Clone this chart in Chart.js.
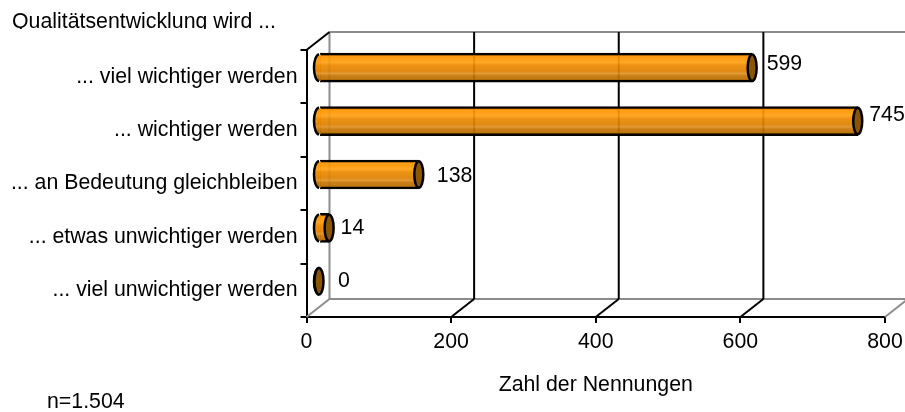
<!DOCTYPE html>
<html>
<head>
<meta charset="utf-8">
<style>
  body { margin: 0; background: #fff; }
  canvas { display: block; }
</style>
<script src="https://cdn.jsdelivr.net/npm/chart.js@4"></script>
</head>
<body>
<canvas id="chart" width="905" height="412"></canvas>
<script>
const categories = [
    '... viel wichtiger werden',
    '... wichtiger werden',
    '... an Bedeutung gleichbleiben',
    '... etwas unwichtiger werden',
    '... viel unwichtiger werden'
];
const values = [599, 745, 138, 14, 0];
const xTicks = [0, 200, 400, 600, 800];

const FONT = '"Liberation Sans", Arial, sans-serif';
const FONT_SIZE = 21.3;

// depth of the fake 3d box
const DEPTH_X = 23;
const DEPTH_Y = 18;
// bars sit halfway into the box
const BAR_SHIFT_X = 12.5;
const BAR_SHIFT_Y = -9;
const BAR_HEIGHT = 29;
const BAR_LINE = 2.5;
const CAP_RX = 4.5;
const CAP_LEFT_RX = 5;

// label nudge next to the bar end [dx, dy]
const labelNudge = [[14.5, -13], [11.5, -14.5], [18, -7], [11.5, -8.5], [19, -9.5]];

function barGradient(c, centerY) {
    // scale is not ready on the very first option lookup
    if (!Number.isFinite(centerY)) return '#E88E0A';
    const top = centerY - BAR_HEIGHT / 2;
    const g = c.createLinearGradient(0, top, 0, top + BAR_HEIGHT);
    // a bit see-through, grid lines shine through the bars
    g.addColorStop(0, 'rgba(240, 144, 0, 0.92)');
    g.addColorStop(0.18, 'rgba(255, 150, 0, 0.92)');
    g.addColorStop(0.32, 'rgba(255, 160, 20, 0.92)');
    g.addColorStop(0.42, 'rgba(236, 136, 0, 0.92)');
    g.addColorStop(0.62, 'rgba(222, 128, 0, 0.92)');
    g.addColorStop(0.7, 'rgba(226, 146, 36, 0.92)');
    g.addColorStop(0.78, 'rgba(196, 116, 0, 0.92)');
    g.addColorStop(1, 'rgba(180, 104, 0, 0.92)');
    return g;
}

function line(c, x1, y1, x2, y2, color, width) {
    c.beginPath();
    c.moveTo(x1, y1);
    c.lineTo(x2, y2);
    c.strokeStyle = color;
    c.lineWidth = width;
    c.stroke();
}

const box3d = {
    id: 'box3d',
    beforeDatasetsDraw(chart) {
        const c = chart.ctx;
        const { left, right, top, bottom } = chart.chartArea;
        const gray = '#8C8C8C';
        c.save();
        // back wall
        line(c, left + DEPTH_X, top - DEPTH_Y, right + DEPTH_X, top - DEPTH_Y, gray, 2);
        line(c, left + DEPTH_X, bottom - DEPTH_Y, right + DEPTH_X, bottom - DEPTH_Y, gray, 2);
        line(c, left + DEPTH_X, top - DEPTH_Y, left + DEPTH_X, bottom - DEPTH_Y, gray, 2);
        line(c, left, bottom, left + DEPTH_X, bottom - DEPTH_Y, gray, 2);
        line(c, right, bottom, right + DEPTH_X, bottom - DEPTH_Y, gray, 2);
        line(c, left, top, left + DEPTH_X, top - DEPTH_Y, '#000', 2);
        // grid lines on back wall + floor
        xTicks.slice(1, -1).forEach(t => {
            const x = chart.scales.x.getPixelForValue(t);
            line(c, x + DEPTH_X, top - DEPTH_Y, x + DEPTH_X, bottom - DEPTH_Y, '#000', 2);
            line(c, x, bottom, x + DEPTH_X, bottom - DEPTH_Y, '#000', 2);
        });
        c.restore();

        c.save();
        c.translate(BAR_SHIFT_X, BAR_SHIFT_Y);
    },
    afterDatasetsDraw(chart) {
        const c = chart.ctx;
        const base = chart.scales.x.getPixelForValue(0);
        chart.getDatasetMeta(0).data.forEach((bar, i) => {
            const ry = (BAR_HEIGHT - BAR_LINE) / 2;
            c.fillStyle = barGradient(c, bar.y);
            // close the pale seam between cap and bar body
            if (values[i] > 0) c.fillRect(base - 1, bar.y - ry, 3, ry * 2);
            // rounded left end
            c.beginPath();
            c.ellipse(base, bar.y, CAP_LEFT_RX, ry, 0, Math.PI / 2, Math.PI * 1.5);
            c.fill();
            c.strokeStyle = '#000';
            c.lineWidth = BAR_LINE;
            c.stroke();
            // dark right end
            c.beginPath();
            c.ellipse(bar.x, bar.y, CAP_RX, ry, 0, 0, Math.PI * 2);
            c.fillStyle = '#8A5606';
            c.fill();
            c.stroke();
        });
        c.restore();

        // value labels and free texts
        c.save();
        c.font = FONT_SIZE + 'px ' + FONT;
        c.fillStyle = '#000';
        c.textBaseline = 'middle';
        c.textAlign = 'left';
        chart.getDatasetMeta(0).data.forEach((bar, i) => {
            const x = bar.x + BAR_SHIFT_X + labelNudge[i][0];
            const y = chart.scales.y.getPixelForValue(i) + labelNudge[i][1];
            c.fillText(String(values[i]), x, y);
        });
        c.textBaseline = 'alphabetic';
        c.fillText('n=1.504', 47, 408);
        // title is cut off below the baseline in the original
        c.beginPath();
        c.rect(0, 0, 400, 29);
        c.clip();
        c.fillText('Qualitätsentwicklung wird ...', 12, 28);
        c.restore();
    }
};

new Chart(document.getElementById('chart'), {
    type: 'bar',
    data: {
        labels: categories,
        datasets: [{
            data: values,
            barThickness: BAR_HEIGHT,
            backgroundColor: ctx => barGradient(ctx.chart.ctx, ctx.chart.scales.y.getPixelForValue(ctx.dataIndex)),
            borderColor: '#000',
            borderWidth: BAR_LINE,
            borderSkipped: 'left'
        }]
    },
    options: {
        indexAxis: 'y',
        responsive: false,
        animation: false,
        layout: { padding: { top: 50, right: 20, left: 0, bottom: 0 } },
        plugins: {
            legend: { display: false },
            tooltip: { enabled: false }
        },
        scales: {
            x: {
                min: 0,
                max: 800,
                afterBuildTicks: scale => { scale.ticks = xTicks.map(v => ({ value: v })); },
                afterFit: scale => {
                    scale.height = 95;
                    // label of 800 must not push the plot area in
                    scale.paddingRight = 0;
                    scale.paddingLeft = 0;
                },
                border: { color: '#000', width: 2 },
                grid: { drawOnChartArea: false, color: '#000', tickColor: '#000', tickLength: 6, lineWidth: 2 },
                ticks: { color: '#000', padding: 6, maxRotation: 0, font: { family: FONT, size: FONT_SIZE } },
                title: {
                    display: true,
                    text: 'Zahl der Nennungen',
                    color: '#000',
                    font: { family: FONT, size: FONT_SIZE },
                    padding: { top: 19, bottom: 14 }
                }
            },
            y: {
                afterFit: scale => { scale.width = 306.5; },
                border: { color: '#000', width: 2 },
                grid: { drawOnChartArea: false, color: '#000', tickColor: '#000', tickLength: 6, lineWidth: 2 },
                ticks: { color: '#000', padding: 3, font: { family: FONT, size: FONT_SIZE } }
            }
        }
    },
    plugins: [box3d]
});
</script>
</body>
</html>
